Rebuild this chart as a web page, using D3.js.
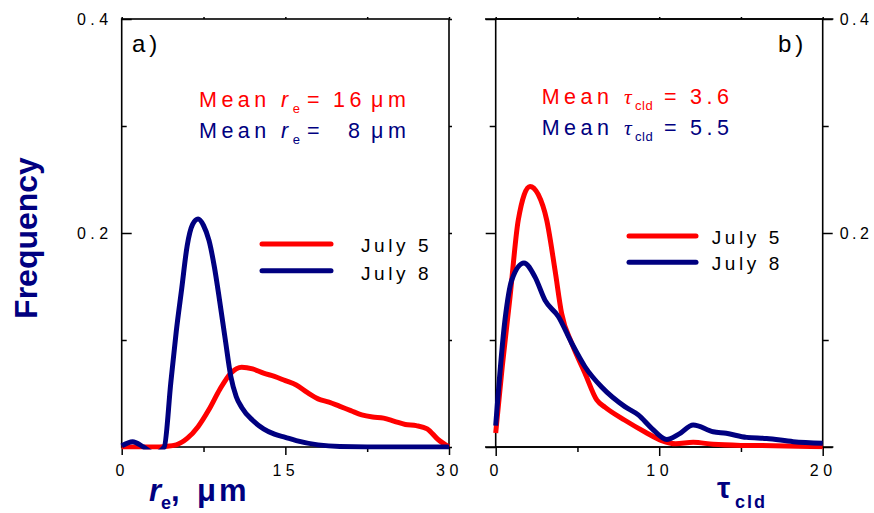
<!DOCTYPE html>
<html><head><meta charset="utf-8">
<script src="https://cdn.jsdelivr.net/npm/d3@7"></script>
<style>
body{margin:0;background:#fff}
svg text{font-family:"Liberation Sans",Arial,sans-serif}
</style></head>
<body><svg id="chart" width="874" height="513"></svg>
<script>
// ---------- DATA ----------
// Panel a: effective radius r_e (µm)
const reJuly5 = [0,1,2,3,4,5,6,7,8,9,10,11,12,13,14,15,16,17,18,19,20,21,22,23,24,25,26,27,28,29,30];
const freqReJuly5 = [0,0,0,0,0.0005,0.002,0.008,0.019,0.035,0.054,0.069,0.0745,0.073,0.069,0.066,0.062,0.058,0.051,0.045,0.042,0.038,0.034,0.030,0.028,0.027,0.024,0.021,0.020,0.017,0.007,0];
const reJuly8 = [0,1,2,3,3.9,4.5,5,5.5,6,6.5,7,7.5,8,8.5,9,9.5,10,10.5,11,12,13,14,15,16,18,20,25,30];
const freqReJuly8 = [0.001,0.005,0.000,-0.006,0,0.06,0.108,0.148,0.188,0.208,0.213,0.207,0.193,0.168,0.135,0.1,0.066,0.047,0.037,0.025,0.017,0.012,0.009,0.006,0.002,0.0005,0,0];
// Panel b: cloud optical depth tau_cld
const tauJuly5 = [0,0.4,0.875,1.38,2.1,2.6,3.12,3.63,4.03,4.65,5.46,6.18,6.7,7.9,9.13,10.15,11,12.08,13.3,15,17,20];
const freqTauJuly5 = [0.013,0.075,0.14,0.212,0.2435,0.236,0.212,0.165,0.125,0.097,0.069,0.044,0.037,0.025,0.014,0.006,0.003,0.0044,0.0025,0.0015,0.0012,0.0003];
const tauJuly8 = [0,0.57,0.98,1.73,2.4,3.02,3.83,4.65,5.46,6.48,7.9,8.72,9.54,10.46,11.2,12.08,13.3,14.1,15.35,16.57,18.2,20];
const freqTauJuly8 = [0.02,0.119,0.156,0.172,0.159,0.137,0.122,0.097,0.075,0.056,0.0377,0.030,0.0175,0.007,0.012,0.0206,0.0143,0.0128,0.009,0.008,0.005,0.0035];

const seriesNames = ["July 5","July 8"];
const seriesColors = ["#ff0000","#000080"];
const yMajorTicks = [0,0.2,0.4];
const yMinorTicks = [0.1,0.3];
const reMajorTicks = [0,15,30];
const reMinorTicks = [7.5,22.5];
const tauMajorTicks = [0,10,20];
const tauMinorTicks = [5,15];
const meanRe = ["16","8"];
const meanTau = ["3.6","5.5"];

// ---------- LAYOUT ----------
const svg = d3.select("#chart");
const NAVY = "#000080", RED = "#ff0000";
const yTop = 19, yBot = 447;
const y = d3.scaleLinear().domain([0,0.4]).range([yBot, yTop]);
const xa = d3.scaleLinear().domain([0,30]).range([121.7,449]);
const xb = d3.scaleLinear().domain([0,20]).range([495.7,822.7]);

const yFmt = d => d === 0 ? "" : d3.format(".1f")(d);

function styleAxis(g, spacing){
  g.select(".domain").remove();
  g.selectAll("line").attr("stroke","#000").attr("stroke-width",1.5);
  g.selectAll("text").attr("font-size",16).attr("fill","#000")
   .style("letter-spacing",(spacing===undefined?4.5:spacing)+"px").attr("font-family","Liberation Sans, Arial, sans-serif");
}

// clip paths
const defs = svg.append("defs");
[["clipA",xa],["clipB",xb]].forEach(([id,x])=>{
  defs.append("clipPath").attr("id",id).append("rect")
    .attr("x",x.range()[0]-3).attr("y",yTop-3)
    .attr("width",x.range()[1]-x.range()[0]+6).attr("height",yBot-yTop+5.5);
});

// ----- Panel a -----
const ga = svg.append("g");
ga.append("g").attr("transform",`translate(${xa(0)},0)`)
  .call(d3.axisLeft(y).tickValues(yMajorTicks).tickSize(-10).tickPadding(9).tickFormat(yFmt)).call(styleAxis);
ga.append("g").attr("transform",`translate(${xa(0)},0)`)
  .call(d3.axisLeft(y).tickValues(yMinorTicks).tickSize(-5).tickFormat("")).call(styleAxis);
ga.append("g").attr("transform",`translate(${xa(30)},0)`)
  .call(d3.axisRight(y).tickValues(yMajorTicks.concat(yMinorTicks)).tickSize(3).tickFormat("")).call(styleAxis);
ga.append("g").attr("transform",`translate(0,${yBot})`)
  .call(d3.axisBottom(xa).tickValues(reMajorTicks).tickSize(8).tickPadding(10).tickFormat(d3.format("d"))).call(styleAxis);
ga.append("g").attr("transform",`translate(0,${yBot})`)
  .call(d3.axisBottom(xa).tickValues(reMinorTicks).tickSize(5).tickFormat("")).call(styleAxis);
ga.append("g").attr("transform",`translate(0,${yTop})`)
  .call(d3.axisTop(xa).tickValues(reMajorTicks.concat(reMinorTicks)).tickSize(2).tickFormat("")).call(styleAxis);
ga.append("rect").attr("x",xa(0)).attr("y",yTop).attr("width",xa(30)-xa(0)).attr("height",yBot-yTop)
  .attr("fill","none").attr("stroke","#000").attr("stroke-width",1.6);

// ----- Panel b -----
const gb = svg.append("g");
gb.append("g").attr("transform",`translate(${xb(0)},0)`)
  .call(d3.axisLeft(y).tickValues(yMajorTicks).tickSize(10).tickFormat("")).call(styleAxis);
gb.append("g").attr("transform",`translate(${xb(0)},0)`)
  .call(d3.axisLeft(y).tickValues(yMinorTicks).tickSize(6).tickFormat("")).call(styleAxis);
gb.append("g").attr("transform",`translate(${xb(20)},0)`)
  .call(d3.axisRight(y).tickValues(yMajorTicks).tickSize(10).tickPadding(7).tickFormat(yFmt)).call(g=>styleAxis(g,3.5));
gb.append("g").attr("transform",`translate(${xb(20)},0)`)
  .call(d3.axisRight(y).tickValues(yMinorTicks).tickSize(6).tickFormat("")).call(styleAxis);
gb.append("g").attr("transform",`translate(0,${yBot})`)
  .call(d3.axisBottom(xb).tickValues(tauMajorTicks).tickSize(9).tickPadding(9).tickFormat(d3.format("d"))).call(styleAxis);
gb.append("g").attr("transform",`translate(0,${yBot})`)
  .call(d3.axisBottom(xb).tickValues(tauMinorTicks).tickSize(5).tickFormat("")).call(styleAxis);
gb.append("g").attr("transform",`translate(0,${yTop})`)
  .call(d3.axisTop(xb).tickValues(tauMajorTicks.concat(tauMinorTicks)).tickSize(2).tickFormat("")).call(styleAxis);
gb.append("rect").attr("x",xb(0)).attr("y",yTop).attr("width",xb(20)-xb(0)).attr("height",yBot-yTop)
  .attr("fill","none").attr("stroke","#000").attr("stroke-width",1.6);
[yTop,yBot].forEach(yy=>{
  gb.append("line").attr("x1",xb(0)-10.7).attr("x2",xb(20)+10.7).attr("y1",yy).attr("y2",yy)
    .attr("stroke","#000").attr("stroke-width",1.6);
});

// ----- curves -----
function drawCurve(g, x, xs, ys, color, clip){
  const pts = xs.map((d,i)=>[d, ys[i]]);
  g.append("path").datum(pts)
    .attr("clip-path",`url(#${clip})`)
    .attr("d", d3.line().x(d=>x(d[0])).y(d=>y(d[1])).curve(d3.curveMonotoneX))
    .attr("fill","none").attr("stroke",color).attr("stroke-width",5)
    .attr("stroke-linejoin","round");
}
drawCurve(ga, xa, reJuly5, freqReJuly5, seriesColors[0], "clipA");
drawCurve(ga, xa, reJuly8, freqReJuly8, seriesColors[1], "clipA");
drawCurve(gb, xb, tauJuly5, freqTauJuly5, seriesColors[0], "clipB");
drawCurve(gb, xb, tauJuly8, freqTauJuly8, seriesColors[1], "clipB");

// ----- legends -----
function legend(g, x1, x2, ys, tx, tys){
  seriesNames.forEach((name,i)=>{
    g.append("line").attr("x1",x1).attr("x2",x2).attr("y1",ys[i]).attr("y2",ys[i])
      .attr("stroke",seriesColors[i]).attr("stroke-width",5).attr("stroke-linecap","round");
    g.append("text").attr("x",tx).attr("y",tys[i]).attr("font-size",19)
      .style("letter-spacing","3.6px").attr("fill","#000").text(name);
  });
}
legend(ga, 262, 331, [244,270.7], 361, [252,280]);
legend(gb, 629, 696, [236,262.3], 711.7, [243.5,270]);

// ----- panel labels -----
svg.append("text").attr("x",132).attr("y",51.7).attr("font-size",24).style("letter-spacing","4px").text("a)");
svg.append("text").attr("x",778).attr("y",51.7).attr("font-size",24).style("letter-spacing","4px").text("b)");

// ----- mean annotations -----
function meanReText(x0, y0, color, val){
  const t = svg.append("text").attr("x",x0).attr("y",y0).attr("font-size",21.5)
    .attr("fill",color).style("letter-spacing","4.5px");
  t.append("tspan").text("Mean ");
  t.append("tspan").attr("x",281).attr("font-style","italic").text("r");
  t.append("tspan").attr("font-size",13).attr("dy",6).style("letter-spacing","0px").text("e");
  t.append("tspan").attr("x",307).attr("dy",-6).text("=");
  t.append("tspan").attr("x", val.length===2 ? 333 : 348).text(val);
  t.append("tspan").attr("x",371).text("μm");
}
meanReText(199, 106.7, RED, meanRe[0]);
meanReText(199, 137.7, NAVY, meanRe[1]);

function meanTauText(x0, y0, color, val){
  const t = svg.append("text").attr("x",x0).attr("y",y0).attr("font-size",21.5)
    .attr("fill",color).style("letter-spacing","4.5px");
  t.append("tspan").text("Mean");
  t.append("tspan").attr("x",624).attr("font-family","Liberation Serif, serif").attr("font-style","italic").text("τ");
  t.append("tspan").attr("x",635).attr("font-size",13).attr("dy",6).style("letter-spacing","0.5px").text("cld");
  t.append("tspan").attr("x",664).attr("dy",-6).text("=");
  t.append("tspan").attr("x",690).text(val);
}
meanTauText(541.7, 104.3, RED, meanTau[0]);
meanTauText(541.7, 135, NAVY, meanTau[1]);

// ----- axis titles -----
svg.append("text").attr("transform","translate(37,238) rotate(-90)").attr("text-anchor","middle")
  .attr("font-size",32).attr("font-weight","bold").attr("fill",NAVY).text("Frequency");

const tA = svg.append("text").attr("x",149).attr("y",501).attr("font-size",31)
  .attr("font-weight","bold").attr("fill",NAVY);
tA.append("tspan").attr("font-style","italic").text("r");
tA.append("tspan").attr("font-size",18).attr("dy",8).text("e");
tA.append("tspan").attr("dy",-8).text(",");
tA.append("tspan").attr("x",197).style("letter-spacing","3px").text("μm");

const tB = svg.append("text").attr("x",717).attr("y",498).attr("font-size",30)
  .attr("font-weight","bold").attr("fill",NAVY);
tB.append("tspan").text("τ");
tB.append("tspan").attr("x",735).attr("font-size",18).attr("dy",10).style("letter-spacing","2px").text("cld");
</script></body></html>
